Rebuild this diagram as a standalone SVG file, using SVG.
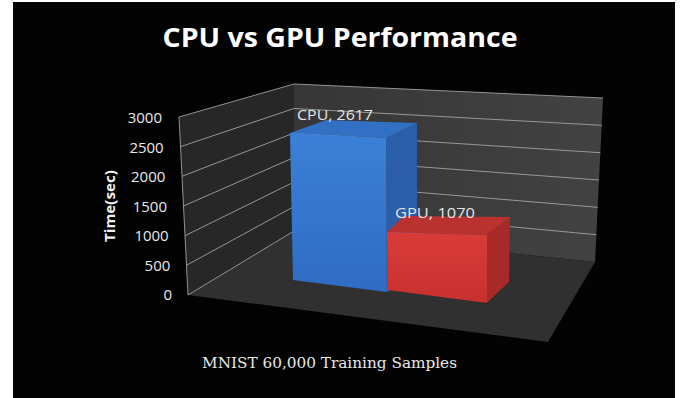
<svg xmlns="http://www.w3.org/2000/svg" width="680" height="398" viewBox="0 0 680 398">
<style>
.grid{stroke:#a8a8a8;stroke-width:1;fill:none;opacity:0.85}
.ytick{font-family:"Open Sans","Liberation Sans",sans-serif;font-size:15px;fill:#e8e8e8;text-anchor:end}
.dlabel{font-family:"Open Sans","Liberation Sans",sans-serif;font-size:15px;fill:#e6e6e6}
</style>
<defs>
<linearGradient id="backG" x1="0" y1="0" x2="1" y2="0">
<stop offset="0" stop-color="#363636"/><stop offset="1" stop-color="#424242"/>
</linearGradient>
<linearGradient id="cpuF" x1="0" y1="0" x2="0" y2="1">
<stop offset="0" stop-color="#3b80d8"/><stop offset="1" stop-color="#2f6cc4"/>
</linearGradient>
<linearGradient id="gpuF" x1="0" y1="0" x2="0" y2="1">
<stop offset="0" stop-color="#d83c38"/><stop offset="1" stop-color="#c8302e"/>
</linearGradient>
</defs>
<rect x="0" y="0" width="680" height="398" fill="#ffffff"/>
<rect x="13" y="2" width="662" height="396" fill="#030303"/>
<text x="340" y="47" text-anchor="middle" font-family="'Open Sans','Liberation Sans',sans-serif" font-size="27" font-weight="bold" fill="#ffffff" textLength="355" lengthAdjust="spacingAndGlyphs">CPU vs GPU Performance</text>
<g id="walls">
<polygon points="179,117 294,84 294,231 188,295" fill="#272727"/>
<polygon points="294,84 603,98 595,262 294,231" fill="url(#backG)"/>
<polygon points="188,295 294,231 595,262 548,342" fill="#303030"/>
<polygon points="420,285 509,282 488,304 470,300" fill="#262626" opacity="0.8"/>
</g>
<g id="gridlines">
<line class="grid" x1="179" y1="117" x2="188" y2="295"/>
<line class="grid" x1="179" y1="117" x2="294" y2="84"/>
<line class="grid" x1="180.5" y1="146.7" x2="294" y2="108.5"/>
<line class="grid" x1="182" y1="176.3" x2="294" y2="133"/>
<line class="grid" x1="183.5" y1="206" x2="294" y2="157.5"/>
<line class="grid" x1="185" y1="235.7" x2="294" y2="182"/>
<line class="grid" x1="186.5" y1="265.3" x2="294" y2="206.5"/>
<line class="grid" x1="188" y1="295" x2="294" y2="231"/>
<line class="grid" x1="294" y1="84" x2="603" y2="98"/>
<line class="grid" x1="294" y1="108.5" x2="601.7" y2="125.3"/>
<line class="grid" x1="294" y1="133" x2="600.3" y2="152.7"/>
<line class="grid" x1="294" y1="157.5" x2="599" y2="180"/>
<line class="grid" x1="294" y1="182" x2="597.7" y2="207.3"/>
<line class="grid" x1="294" y1="206.5" x2="596.3" y2="234.7"/>
</g>
<g id="yaxis">
<text class="ytick" x="162" y="123">3000</text>
<text class="ytick" x="163.7" y="152.5">2500</text>
<text class="ytick" x="165.3" y="182">2000</text>
<text class="ytick" x="167" y="211.5">1500</text>
<text class="ytick" x="168.7" y="241">1000</text>
<text class="ytick" x="170.3" y="270.5">500</text>
<text class="ytick" x="172" y="300">0</text>
<text transform="translate(115,206) rotate(-90)" text-anchor="middle" font-family="'Open Sans','Liberation Sans',sans-serif" font-size="14" font-weight="bold" fill="#f0f0f0" textLength="72" lengthAdjust="spacingAndGlyphs">Time(sec)</text>
</g>
<g id="cpu-bar">
<polygon points="386,138 417,123 417,276 387,292" fill="#2a5eaa"/>
<polygon points="290,133 326,120 417,123 386,138" fill="#3170c2"/>
<polygon points="290,133 386,138 387,292 293,280" fill="url(#cpuF)"/>
<text class="dlabel" x="297" y="120" textLength="76" lengthAdjust="spacingAndGlyphs">CPU, 2617</text>
</g>
<g id="gpu-bar">
<polygon points="487,235 510,217 509,282 487,303" fill="#a82a28"/>
<polygon points="387,232 404,216 510,217 487,235" fill="#b93230"/>
<polygon points="387,232 487,235 487,303 388,290" fill="url(#gpuF)"/>
<text class="dlabel" x="395" y="218" textLength="80" lengthAdjust="spacingAndGlyphs">GPU, 1070</text>
</g>
<text x="202" y="368" font-family="'DejaVu Serif','Liberation Serif',serif" font-size="14" fill="#e8e8e8" textLength="255" lengthAdjust="spacingAndGlyphs">MNIST 60,000 Training Samples</text>
</svg>
